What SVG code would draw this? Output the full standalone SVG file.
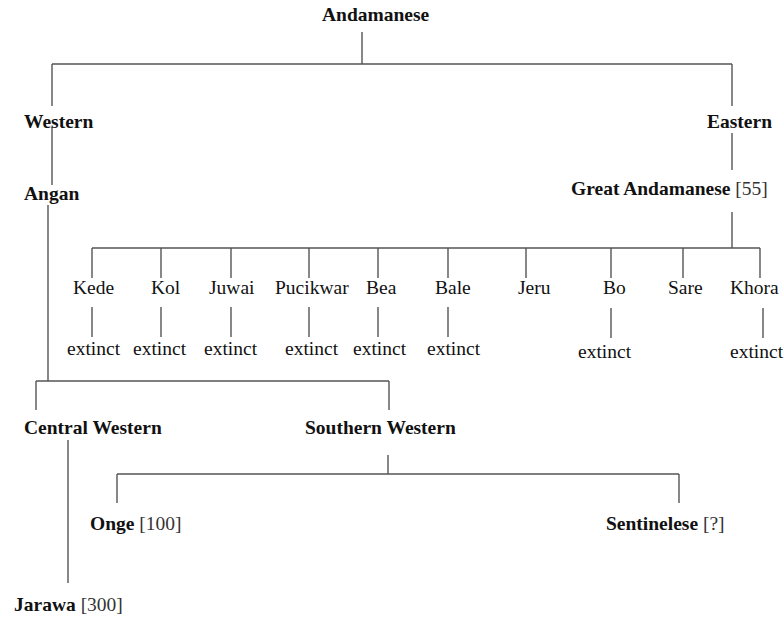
<svg xmlns="http://www.w3.org/2000/svg" width="784" height="618" viewBox="0 0 784 618">
<style>
text{font-family:"Liberation Serif","Times New Roman",serif;font-size:19.5px;fill:#111}
.b{font-weight:bold}
.n{font-weight:normal;fill:#333}
#connectors line{stroke:#555;stroke-width:1.4;fill:none}
</style>
<rect width="784" height="618" fill="#fff"/>
<g id="connectors">
<line x1="362" y1="32" x2="362" y2="64"/>
<line x1="52" y1="64" x2="732" y2="64"/>
<line x1="52" y1="64" x2="52" y2="106"/>
<line x1="732" y1="64" x2="732" y2="106"/>
<line x1="52" y1="127" x2="52" y2="185"/>
<line x1="732" y1="133" x2="732" y2="170"/>
<line x1="732" y1="212" x2="732" y2="248"/>
<line x1="92" y1="248" x2="760" y2="248"/>
<line x1="92" y1="248" x2="92" y2="278"/>
<line x1="161" y1="248" x2="161" y2="278"/>
<line x1="231" y1="248" x2="231" y2="278"/>
<line x1="309" y1="248" x2="309" y2="278"/>
<line x1="378" y1="248" x2="378" y2="278"/>
<line x1="448" y1="248" x2="448" y2="278"/>
<line x1="526" y1="248" x2="526" y2="278"/>
<line x1="611" y1="248" x2="611" y2="278"/>
<line x1="683" y1="248" x2="683" y2="278"/>
<line x1="760" y1="248" x2="760" y2="278"/>
<line x1="92" y1="307" x2="92" y2="337"/>
<line x1="161" y1="307" x2="161" y2="337"/>
<line x1="231" y1="307" x2="231" y2="337"/>
<line x1="309" y1="307" x2="309" y2="337"/>
<line x1="378" y1="307" x2="378" y2="337"/>
<line x1="448" y1="307" x2="448" y2="337"/>
<line x1="611" y1="308" x2="611" y2="338"/>
<line x1="763" y1="308" x2="763" y2="338"/>
<line x1="48" y1="205" x2="48" y2="381"/>
<line x1="36" y1="381" x2="389" y2="381"/>
<line x1="36" y1="381" x2="36" y2="410"/>
<line x1="389" y1="381" x2="389" y2="410"/>
<line x1="68" y1="440" x2="68" y2="583"/>
<line x1="388" y1="455" x2="388" y2="474"/>
<line x1="117" y1="474" x2="679" y2="474"/>
<line x1="117" y1="474" x2="117" y2="503"/>
<line x1="679" y1="474" x2="679" y2="503"/>
</g>
<g id="andamanese"><text class="b" x="322" y="21">Andamanese</text></g>
<g id="western"><text class="b" x="24" y="128">Western</text></g>
<g id="eastern"><text class="b" x="707" y="128">Eastern</text></g>
<g id="angan"><text class="b" x="24" y="200">Angan</text></g>
<g id="great-andamanese"><text class="b" x="571" y="195">Great Andamanese <tspan class="n">[55]</tspan></text></g>
<g id="kede"><text x="73" y="294">Kede</text><text x="67" y="355">extinct</text></g>
<g id="kol"><text x="151" y="294">Kol</text><text x="133" y="355">extinct</text></g>
<g id="juwai"><text x="209" y="294">Juwai</text><text x="204" y="355">extinct</text></g>
<g id="pucikwar"><text x="275" y="294">Pucikwar</text><text x="285" y="355">extinct</text></g>
<g id="bea"><text x="366" y="294">Bea</text><text x="353" y="355">extinct</text></g>
<g id="bale"><text x="435" y="294">Bale</text><text x="427" y="355">extinct</text></g>
<g id="jeru"><text x="518" y="294">Jeru</text></g>
<g id="bo"><text x="603" y="294">Bo</text><text x="578" y="358">extinct</text></g>
<g id="sare"><text x="668" y="294">Sare</text></g>
<g id="khora"><text x="730" y="294">Khora</text><text x="730" y="358">extinct</text></g>
<g id="central-western"><text class="b" x="24" y="434">Central Western</text></g>
<g id="southern-western"><text class="b" x="305" y="434">Southern Western</text></g>
<g id="onge"><text class="b" x="90" y="530">Onge <tspan class="n">[100]</tspan></text></g>
<g id="sentinelese"><text class="b" x="606" y="530">Sentinelese <tspan class="n">[?]</tspan></text></g>
<g id="jarawa"><text class="b" x="14" y="611">Jarawa <tspan class="n">[300]</tspan></text></g>
</svg>
